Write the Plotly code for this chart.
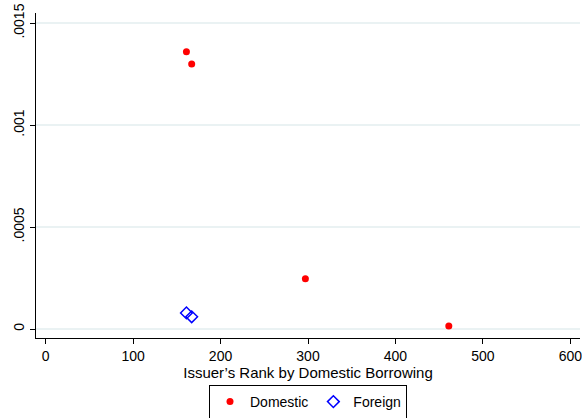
import plotly.graph_objects as go

dom_x = [161, 167, 297, 461]
dom_y = [0.00136, 0.00130, 0.000246, 0.000015]
for_x = [161, 167]
for_y = [0.000079, 0.000060]

y_tickvals = [0, 0.0005, 0.001, 0.0015]
y_ticktext = ["0", ".0005", ".001", ".0015"]
x_tickvals = [0, 100, 200, 300, 400, 500, 600]

fig = go.Figure()
fig.add_trace(go.Scatter(x=dom_x, y=dom_y, mode="markers", name="Domestic",
                         marker=dict(color="#ff0000", size=7, symbol="circle")))
fig.add_trace(go.Scatter(x=for_x, y=for_y, mode="markers", name="Foreign",
                         marker=dict(color="#0000ff", size=9, symbol="diamond-open",
                                     line=dict(width=1.5))))

fig.update_layout(
    width=582, height=418,
    margin=dict(l=36, r=2, t=13, b=80, autoexpand=False),
    paper_bgcolor="white", plot_bgcolor="white",
    font=dict(family="Liberation Sans, Arial, sans-serif", size=14, color="black"),
    showlegend=True,
    legend=dict(orientation="h", x=0.5, xanchor="center", xref="paper",
                y=1 - 385 / 418, yanchor="top", yref="container",
                bordercolor="black", borderwidth=1, font=dict(size=14),
                itemwidth=30, tracegroupgap=0),
    xaxis=dict(range=[-11, 611], tickvals=x_tickvals, showline=True, linecolor="black",
               linewidth=1, ticks="outside", ticklen=5, tickcolor="black", showgrid=False,
               zeroline=False, mirror=False, automargin=False, ticklabeloverflow="allow",
               tickfont=dict(size=14),
               title=dict(text="Issuer’s Rank by Domestic Borrowing", standoff=2,
                          font=dict(size=15))),
    yaxis=dict(range=[-0.000044, 0.00155], tickvals=y_tickvals, ticktext=y_ticktext,
               tickangle=-90, showline=True, linecolor="black", linewidth=1,
               ticks="outside", ticklen=5, tickcolor="black", automargin=False,
               ticklabeloverflow="allow",
               tickfont=dict(size=14),
               showgrid=True, gridcolor="#eaf2f3", gridwidth=1.5, zeroline=False),
)

fig.write_html("out.html", config={"displayModeBar": False},
               post_script="document.body.style.margin='0';document.body.style.overflow='hidden';")
